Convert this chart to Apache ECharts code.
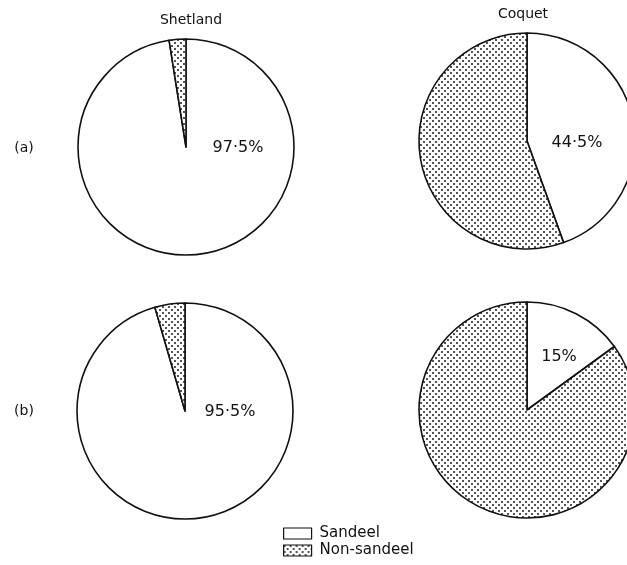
<!DOCTYPE html>
<html><head><meta charset="utf-8">
<script src="https://cdn.jsdelivr.net/npm/echarts@6/dist/echarts.min.js"></script>
<style>html,body{margin:0;padding:0;background:#fff}#c{width:627px;height:565px}</style>
</head><body><div id="c"></div>
<script>
var sites = ['Shetland', 'Coquet'];
var rows = ['(a)', '(b)'];
var categories = ['Sandeel', 'Non-sandeel'];
var sandeelA = [97.5, 44.5];
var sandeelB = [95.5, 15];

var chart = echarts.init(document.getElementById('c'), null, {renderer: 'canvas'});

var pc = document.createElement('canvas');
pc.width = 6; pc.height = 6;
var g = pc.getContext('2d');
g.fillStyle = '#fff'; g.fillRect(0, 0, 6, 6);
g.fillStyle = '#555';
g.fillRect(0, 0, 2, 2);
g.fillRect(3, 3, 2, 2);
var dots = {image: pc, repeat: 'repeat'};

var FONT = 'DejaVu Sans';
var centers = [[[186, 147], [527, 141]], [[185, 411], [527, 410]]];
var labelPos = [[[238, 148], [577, 143]], [[230, 412], [559, 357]]];
var values = [sandeelA, sandeelB];

function fmt(v) {
  return (v % 1 === 0 ? String(v) : v.toFixed(1).replace('.', '\u00B7')) + '%';
}

var series = [];
var graphic = [];
for (var r = 0; r < 2; r++) {
  for (var s = 0; s < 2; s++) {
    var v = values[r][s];
    series.push({
      type: 'pie',
      center: centers[r][s],
      radius: 108,
      startAngle: 90,
      clockwise: true,
      silent: true,
      label: {show: false},
      labelLine: {show: false},
      itemStyle: {borderColor: '#111', borderWidth: 1.6},
      data: [
        {name: categories[0], value: v, itemStyle: {color: '#fff'}},
        {name: categories[1], value: +(100 - v).toFixed(1), itemStyle: {color: dots}}
      ]
    });
    graphic.push({
      type: 'text', x: labelPos[r][s][0], y: labelPos[r][s][1], z: 100,
      style: {text: fmt(v), font: '16px "' + FONT + '"', fill: '#111', align: 'center', verticalAlign: 'middle'}
    });
  }
}
function addText(t, x, y) {
  graphic.push({type: 'text', x: x, y: y, z: 100, style: {text: t, font: '14px "' + FONT + '"', fill: '#111', align: 'center', verticalAlign: 'middle'}});
}
addText(sites[0], 191, 20);
addText(sites[1], 523, 14);
addText(rows[0], 24, 148);
addText(rows[1], 24, 411);

chart.setOption({
  animation: false,
  backgroundColor: '#fff',
  legend: {
    orient: 'vertical',
    left: 283, top: 526,
    width: 200, height: 40,
    padding: 0,
    icon: 'rect',
    itemWidth: 28, itemHeight: 11, itemGap: 2,
    selectedMode: false,
    data: categories,
    textStyle: {fontFamily: FONT, fontSize: 15, color: '#111', padding: [0, 0, 0, 3]},
    itemStyle: {borderColor: '#111', borderWidth: 1.2}
  },
  series: series,
  graphic: graphic
});
</script></body></html>
